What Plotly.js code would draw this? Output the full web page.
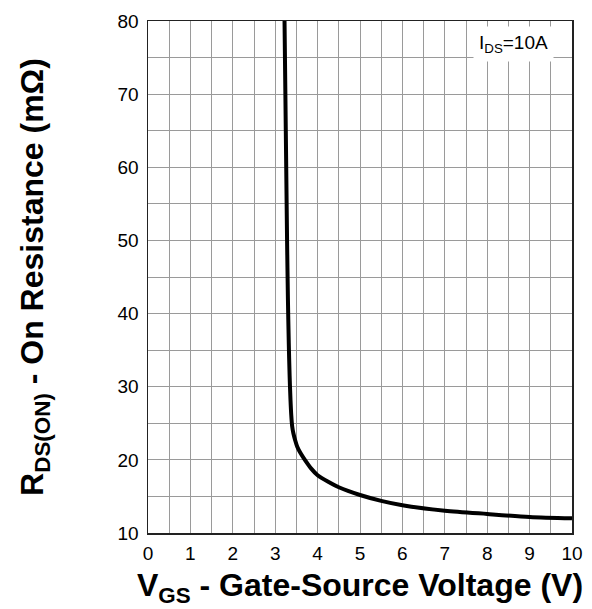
<!DOCTYPE html>
<html>
<head>
<meta charset="utf-8">
<script src="https://cdn.plot.ly/plotly-3.0.1.min.js"></script>
<style>html,body{margin:0;padding:0;background:#fff;}#chart{width:592px;height:609px;}</style>
</head>
<body>
<div id="chart"></div>
<script>
const vgs = [3.22, 3.24, 3.26, 3.28, 3.30, 3.32, 3.34, 3.36, 3.38, 3.40, 3.43, 3.47, 3.52, 3.60, 3.70, 3.85, 4.0, 4.25, 4.5, 5.0, 5.5, 6.0, 7.0, 8.0, 9.0, 10.0];
const rdson = [80, 70, 60, 50, 42, 36, 31.5, 28.3, 26.0, 24.6, 23.6, 22.7, 21.8, 20.9, 20.0, 18.8, 17.9, 17.0, 16.25, 15.2, 14.4, 13.8, 13.05, 12.6, 12.2, 12.0];
const xTicks = [0,1,2,3,4,5,6,7,8,9,10];
const yTicks = [10,20,30,40,50,60,70,80];

const trace = {
  x: vgs, y: rdson, type: 'scatter', mode: 'lines',
  line: {color: '#000', width: 4, shape: 'spline', smoothing: 0.8},
  hoverinfo: 'skip'
};

const fam = 'Liberation Sans, Arial, sans-serif';
const axisFont = {family: fam, size: 19, color: '#000'};
const titleFont = {family: fam, size: 32, color: '#000', weight: 'bold'};
const layout = {
  width: 592, height: 609,
  margin: {l: 148, r: 20, t: 21, b: 76},
  paper_bgcolor: '#fff', plot_bgcolor: '#fff',
  showlegend: false,
  xaxis: {
    range: [0, 10], tickmode: 'array', tickvals: xTicks, ticktext: xTicks.map(String),
    showgrid: true, gridcolor: '#9a9a9a', gridwidth: 1,
    minor: {dtick: 0.5, showgrid: true, gridcolor: '#9a9a9a', gridwidth: 1},
    showline: true, mirror: true, linecolor: '#222', linewidth: 1.5,
    zeroline: false, ticks: '', tickfont: axisFont, ticklabelstandoff: 3,
    title: {text: 'V<sub>GS</sub> - Gate-Source Voltage (V)', font: titleFont, standoff: 10}
  },
  yaxis: {
    range: [10, 80], tickmode: 'array', tickvals: yTicks, ticktext: yTicks.map(String),
    showgrid: true, gridcolor: '#9a9a9a', gridwidth: 1,
    minor: {dtick: 5, showgrid: true, gridcolor: '#9a9a9a', gridwidth: 1},
    showline: true, mirror: true, linecolor: '#222', linewidth: 1.5,
    zeroline: false, ticks: '', tickfont: axisFont, ticklabelstandoff: 4,
    title: {text: 'R<sub>DS(ON)</sub> - On Resistance (mΩ)', font: titleFont, standoff: 64}
  },
  annotations: [{
    xref: 'paper', yref: 'paper', x: 0.862, y: 0.955, xanchor: 'center', yanchor: 'middle',
    text: 'I<sub>DS</sub>=10A', showarrow: false,
    font: {family: fam, size: 19, color: '#000'},
    bgcolor: '#fff', borderpad: 5
  }]
};

Plotly.newPlot('chart', [trace], layout, {staticPlot: true, displayModeBar: false});
</script>
</body>
</html>
